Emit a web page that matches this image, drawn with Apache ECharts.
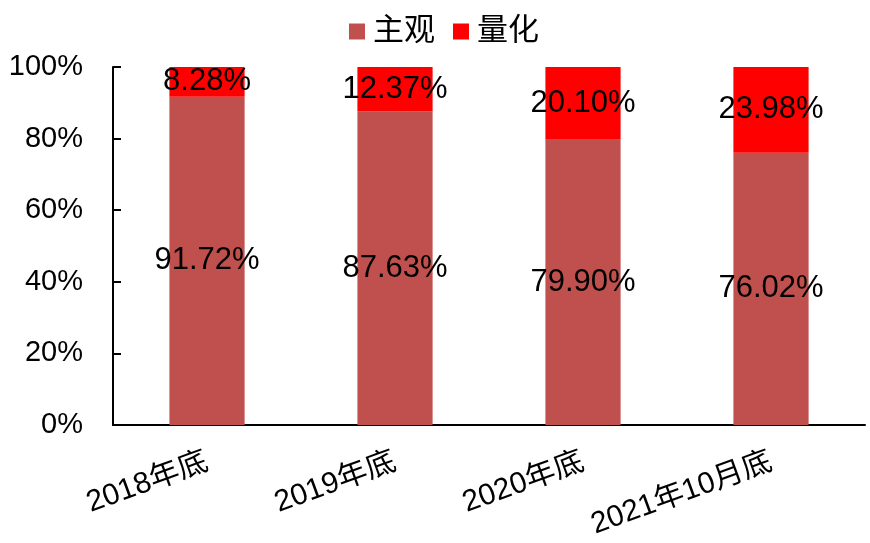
<!DOCTYPE html>
<html><head><meta charset="utf-8">
<script src="https://cdn.jsdelivr.net/npm/echarts@6/dist/echarts.min.js"></script>
<style>html,body{margin:0;padding:0;background:#fff}#c{width:870px;height:543px}</style>
</head><body><div id="c"></div>
<script>
const categories = ['2018年底','2019年底','2020年底','2021年10月底'];
const subjective = [91.72, 87.63, 79.90, 76.02];
const quant = [8.28, 12.37, 20.10, 23.98];
const yTicks = [0,20,40,60,80,100];
const FONT = '"Liberation Sans", Arial, "Noto Sans CJK SC", sans-serif';
const chart = echarts.init(document.getElementById('c'));
const lbl = {show:true, position:'inside', color:'#000', fontSize:31, fontFamily:FONT,
  formatter: p => p.value.toFixed(2) + '%'};
chart.setOption({
  animation:false,
  textStyle:{fontFamily:FONT},
  legend:{top:11, left:344, itemWidth:16, itemHeight:16, itemGap:18,
    icon:'rect', textStyle:{fontSize:31, color:'#000', fontFamily:FONT, padding:[0,0,0,3]},
    data:['主观','量化']},
  grid:{left:113, right:5, top:67, bottom:118},
  xAxis:{type:'category', data:categories,
    axisLine:{lineStyle:{color:'#000', width:2}},
    axisTick:{show:false},
    axisLabel:{rotate:20, fontSize:30, color:'#000', margin:36, interval:0, fontFamily:FONT}},
  yAxis:{type:'value', min:0, max:100, interval:20,
    axisLine:{show:true, lineStyle:{color:'#000', width:2}},
    axisTick:{show:true, inside:true, length:8, lineStyle:{color:'#000', width:2}},
    splitLine:{show:false},
    axisLabel:{fontSize:29, color:'#000', margin:30, fontFamily:FONT,
      formatter: v => yTicks.includes(v) ? v + '%' : ''}},
  series:[
    {name:'主观', type:'bar', stack:'a', barWidth:'40%', data:subjective,
      itemStyle:{color:'#C0504D'}, label:lbl},
    {name:'量化', type:'bar', stack:'a', barWidth:'40%', data:quant,
      itemStyle:{color:'#FF0000'}, label:lbl}
  ]
});
</script></body></html>
